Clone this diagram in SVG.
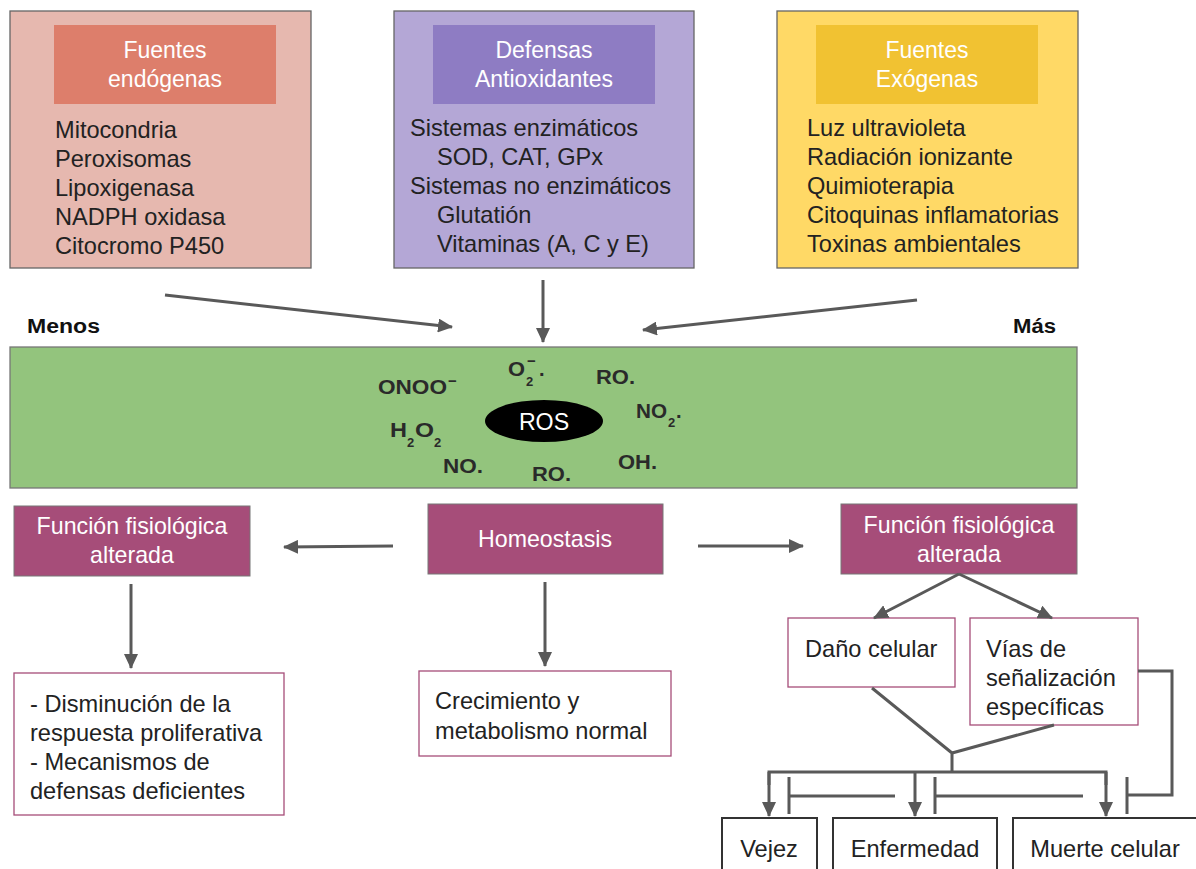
<svg xmlns="http://www.w3.org/2000/svg" width="1196" height="869" viewBox="0 0 1196 869">
<style>
text{font-family:"Liberation Sans",Arial,sans-serif;fill:#222;}
.b{font-size:23.6px;}
.h{font-size:23px;fill:#fff;text-anchor:middle;}
.w{font-size:23.2px;fill:#fff;text-anchor:middle;}
.c{font-size:20px;font-weight:bold;fill:#2a2a2a;}
.s{font-size:13px;font-weight:bold;fill:#2a2a2a;}
.m{font-size:15px;font-weight:bold;fill:#2a2a2a;}
.lab{font-size:20px;font-weight:bold;fill:#111;}
.top{stroke:#666;stroke-width:1.3;}
.mag{fill:#a64d79;stroke:#777;stroke-width:1;}
.wb{fill:#fff;stroke:#a64d79;stroke-width:1.3;}
.kb{fill:#fff;stroke:#333;stroke-width:2;}
.ln{fill:none;stroke:#595959;stroke-width:3;}
.ar{fill:none;stroke:#595959;stroke-width:3;marker-end:url(#ah);}
</style>
<defs>
<marker id="ah" viewBox="0 0 15 14" refX="14" refY="7" markerWidth="15" markerHeight="14" markerUnits="userSpaceOnUse" orient="auto">
<path d="M0,0 L15,7 L0,14 z" fill="#595959"/>
</marker>
</defs>
<rect width="1196" height="869" fill="#fff"/>

<g id="endogenas">
<rect x="10" y="11" width="301" height="257" fill="#e6b8af" class="top"/>
<rect x="54" y="25" width="222" height="79" fill="#dd7e6b"/>
<text class="h" x="165" y="58">Fuentes</text>
<text class="h" x="165" y="87">endógenas</text>
<text class="b" x="55" y="138">Mitocondria</text>
<text class="b" x="55" y="167">Peroxisomas</text>
<text class="b" x="55" y="196">Lipoxigenasa</text>
<text class="b" x="55" y="225">NADPH oxidasa</text>
<text class="b" x="55" y="254">Citocromo P450</text>
</g>

<g id="antioxidantes">
<rect x="394" y="11" width="300" height="257" fill="#b4a7d6" class="top"/>
<rect x="433" y="25" width="222" height="79" fill="#8e7cc3"/>
<text class="h" x="544" y="58">Defensas</text>
<text class="h" x="544" y="87">Antioxidantes</text>
<text class="b" x="410" y="136">Sistemas enzimáticos</text>
<text class="b" x="437" y="165">SOD, CAT, GPx</text>
<text class="b" x="410" y="194">Sistemas no enzimáticos</text>
<text class="b" x="437" y="223">Glutatión</text>
<text class="b" x="437" y="252">Vitaminas (A, C y E)</text>
</g>

<g id="exogenas">
<rect x="777" y="11" width="301" height="257" fill="#ffd966" class="top"/>
<rect x="816" y="25" width="222" height="79" fill="#f1c232"/>
<text class="h" x="927" y="58">Fuentes</text>
<text class="h" x="927" y="87">Exógenas</text>
<text class="b" x="807" y="136">Luz ultravioleta</text>
<text class="b" x="807" y="165">Radiación ionizante</text>
<text class="b" x="807" y="194">Quimioterapia</text>
<text class="b" x="807" y="223">Citoquinas inflamatorias</text>
<text class="b" x="807" y="252">Toxinas ambientales</text>
</g>

<g id="escala">
<text class="lab" x="27" y="333" textLength="73" lengthAdjust="spacingAndGlyphs">Menos</text>
<text class="lab" x="1013" y="333" textLength="43" lengthAdjust="spacingAndGlyphs">Más</text>
</g>

<g id="ros-band">
<rect x="10" y="347" width="1067" height="141" fill="#93c47d" stroke="#777" stroke-width="1.3"/>
<ellipse cx="544" cy="421" rx="59" ry="21" fill="#000"/>
<text class="w" x="544" y="430">ROS</text>
<text class="c" x="378" y="394" textLength="69" lengthAdjust="spacingAndGlyphs">ONOO</text>
<text class="m" x="448" y="386">−</text>
<text class="c" x="508" y="376" textLength="17" lengthAdjust="spacingAndGlyphs">O</text>
<text class="s" x="526" y="386">2</text>
<text class="m" x="527" y="366">−</text>
<text class="c" x="539" y="376">.</text>
<text class="c" x="596" y="384" textLength="39" lengthAdjust="spacingAndGlyphs">RO.</text>
<text class="c" x="636" y="418" textLength="31" lengthAdjust="spacingAndGlyphs">NO</text>
<text class="s" x="668" y="427">2</text>
<text class="c" x="676" y="418">.</text>
<text class="c" x="390" y="437" textLength="17" lengthAdjust="spacingAndGlyphs">H</text>
<text class="s" x="407" y="447">2</text>
<text class="c" x="415" y="437" textLength="19" lengthAdjust="spacingAndGlyphs">O</text>
<text class="s" x="434" y="447">2</text>
<text class="c" x="443" y="473" textLength="40" lengthAdjust="spacingAndGlyphs">NO.</text>
<text class="c" x="532" y="481" textLength="39" lengthAdjust="spacingAndGlyphs">RO.</text>
<text class="c" x="618" y="469" textLength="39" lengthAdjust="spacingAndGlyphs">OH.</text>
</g>

<g id="funcion-izq">
<rect x="14" y="506" width="236" height="70" class="mag"/>
<text class="w" x="132" y="534">Función fisiológica</text>
<text class="w" x="132" y="563">alterada</text>
</g>

<g id="homeostasis">
<rect x="428" y="504" width="235" height="70" class="mag"/>
<text class="w" x="545" y="547">Homeostasis</text>
</g>

<g id="funcion-der">
<rect x="841" y="504" width="236" height="70" class="mag"/>
<text class="w" x="959" y="533">Función fisiológica</text>
<text class="w" x="959" y="562">alterada</text>
</g>

<g id="disminucion">
<rect x="14" y="673" width="270" height="142" class="wb"/>
<text class="b" x="30" y="712">- Disminución de la</text>
<text class="b" x="30" y="741">respuesta proliferativa</text>
<text class="b" x="30" y="770">- Mecanismos de</text>
<text class="b" x="30" y="799">defensas deficientes</text>
</g>

<g id="crecimiento">
<rect x="419" y="671" width="252" height="85" class="wb"/>
<text class="b" x="435" y="709">Crecimiento y</text>
<text class="b" x="435" y="739">metabolismo normal</text>
</g>

<g id="dano">
<rect x="788" y="618" width="167" height="69" class="wb"/>
<text class="b" x="805" y="657">Daño celular</text>
</g>

<g id="vias">
<rect x="970" y="618" width="168" height="107" class="wb"/>
<text class="b" x="986" y="657">Vías de</text>
<text class="b" x="986" y="686">señalización</text>
<text class="b" x="986" y="715">específicas</text>
</g>

<g id="vejez">
<rect x="722" y="818" width="95" height="70" class="kb"/>
<text class="b" x="769" y="857" text-anchor="middle">Vejez</text>
</g>

<g id="enfermedad">
<rect x="833" y="818" width="164" height="70" class="kb"/>
<text class="b" x="915" y="857" text-anchor="middle">Enfermedad</text>
</g>

<g id="muerte">
<rect x="1013" y="818" width="200" height="70" class="kb"/>
<text class="b" x="1105" y="857" text-anchor="middle">Muerte celular</text>
</g>

<g id="connectors">
<path class="ar" d="M165,295 L452,327"/>
<path class="ar" d="M543,280 L543,342"/>
<path class="ar" d="M917,300 L643,330"/>
<path class="ar" d="M393,546 L284,547"/>
<path class="ar" d="M698,546 L803,546"/>
<path class="ar" d="M131,584 L131,668"/>
<path class="ar" d="M545,582 L545,666"/>
<path class="ar" d="M959,574 L874,618"/>
<path class="ar" d="M959,574 L1052,618"/>
<path class="ln" d="M872,688 L952,753 L1054,725 M952,753 L952,772"/>
<path class="ln" d="M769,785 L769,772 L1106,772 L1106,785"/>
<path class="ar" d="M769,772 L769,816"/>
<path class="ar" d="M915,772 L915,816"/>
<path class="ar" d="M1106,772 L1106,816"/>
<path class="ln" d="M895,796 L789,796 M789,777 L789,814"/>
<path class="ln" d="M1083,796 L935,796 M935,777 L935,814"/>
<path class="ln" d="M1138,671 L1172,671 L1172,795 L1127,795 M1127,777 L1127,814"/>
</g>
</svg>
